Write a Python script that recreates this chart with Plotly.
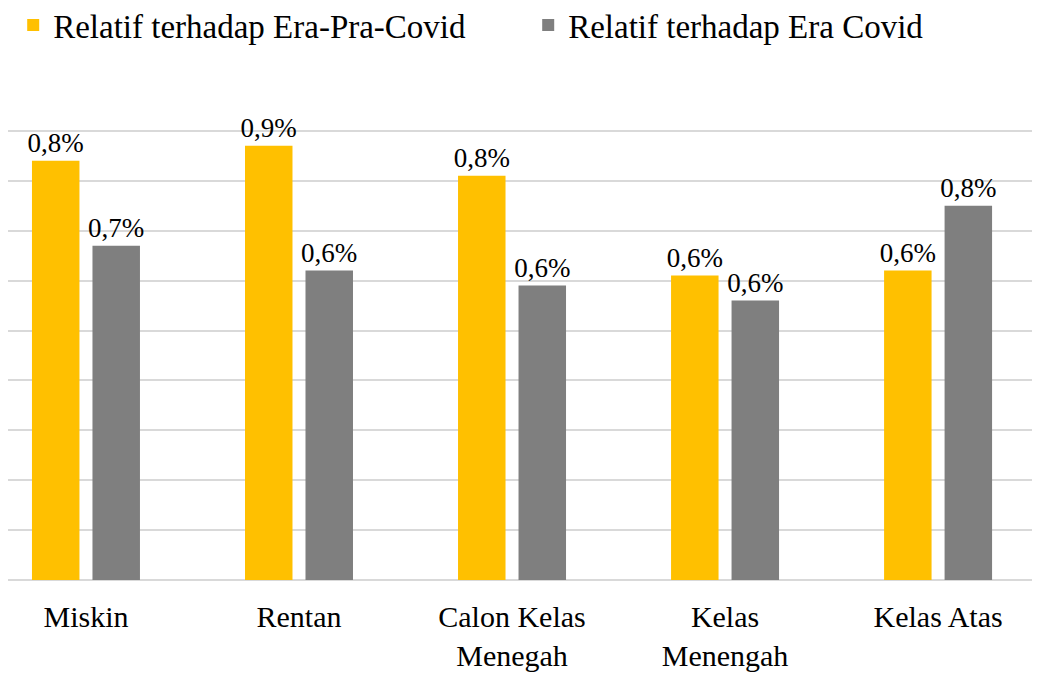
import plotly.graph_objects as go

categories = ["Miskin", "Rentan", "Calon Kelas<br>Menegah", "Kelas<br>Menengah", "Kelas Atas"]
pra_covid = [0.84, 0.87, 0.81, 0.61, 0.62]
era_covid = [0.67, 0.62, 0.59, 0.56, 0.75]
pra_labels = ["0,8%", "0,9%", "0,8%", "0,6%", "0,6%"]
covid_labels = ["0,7%", "0,6%", "0,6%", "0,6%", "0,8%"]
series_names = ["Relatif terhadap Era-Pra-Covid", "Relatif terhadap Era Covid"]
y_ticks = [0.0, 0.1, 0.2, 0.3, 0.4, 0.5, 0.6, 0.7, 0.8, 0.9, 1.0]

FONT = "Liberation Serif"

fig = go.Figure()
fig.add_trace(go.Bar(
    x=categories, y=pra_covid, name=series_names[0],
    marker=dict(color="#FFC000", line=dict(width=0)),
    text=pra_labels, textposition="outside", cliponaxis=False,
    constraintext="none",
    textfont=dict(family=FONT, size=27, color="#000000"),
))
fig.add_trace(go.Bar(
    x=categories, y=era_covid, name=series_names[1],
    marker=dict(color="#7F7F7F", line=dict(width=0)),
    text=covid_labels, textposition="outside", cliponaxis=False,
    constraintext="none",
    textfont=dict(family=FONT, size=27, color="#000000"),
))

fig.update_layout(
    width=1040, height=673,
    margin=dict(l=0, r=0, t=73, b=101, autoexpand=False),
    paper_bgcolor="white", plot_bgcolor="white",
    barmode="group", bargap=0.432, bargroupgap=0.215,
    font=dict(family=FONT, color="#000000"),
    showlegend=True,
    legend=dict(
        orientation="h", x=0.005, y=1.168, xanchor="left", yanchor="top",
        xref="container", yref="paper",
        font=dict(family=FONT, size=33, color="#000000"),
        entrywidth=470, entrywidthmode="pixels",
        bgcolor="rgba(0,0,0,0)",
    ),
)
fig.update_xaxes(
    range=[-0.366, 4.516], showgrid=False, showline=False, zeroline=False,
    tickfont=dict(family=FONT, size=30), ticks="", ticklabelstandoff=16,
    automargin=False,
)
fig.update_yaxes(
    range=[0, 1.0], tickvals=y_ticks, showticklabels=False,
    showgrid=True, gridcolor="#D9D9D9", gridwidth=2,
    zeroline=True, zerolinecolor="#D9D9D9", zerolinewidth=2, showline=False,
    automargin=False,
)

fig.write_html("out.html")
